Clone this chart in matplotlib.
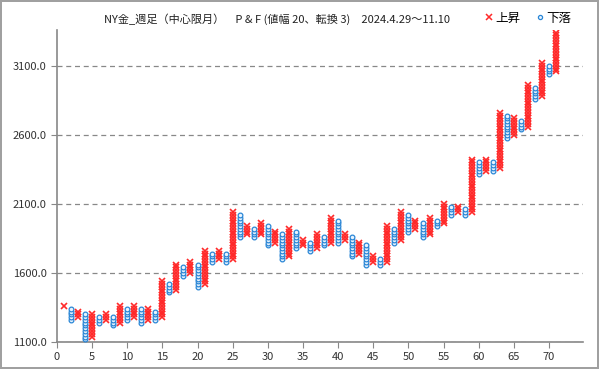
import numpy as np
import matplotlib.pyplot as plt
from matplotlib.lines import Line2D

plt.rcParams['font.family'] = ['Noto Sans CJK JP', 'DejaVu Sans']

# P&F columns (box size 20): odd columns are X (rising), even columns are O (falling)
col_kind = ['X', 'O'] * 35 + ['X']
col_low = [1360, 1260, 1280, 1120, 1140, 1240, 1260, 1220, 1240, 1260,
           1280, 1240, 1260, 1260, 1280, 1460, 1480, 1580, 1600, 1500,
           1520, 1680, 1700, 1680, 1700, 1860, 1880, 1860, 1880, 1800,
           1820, 1700, 1720, 1780, 1800, 1760, 1780, 1800, 1820, 1820,
           1840, 1720, 1740, 1660, 1680, 1660, 1680, 1820, 1840, 1900,
           1920, 1860, 1880, 1940, 1960, 2020, 2040, 2020, 2040, 2320,
           2340, 2340, 2360, 2580, 2600, 2640, 2660, 2860, 2880, 3040,
           3060]
col_high = [1360, 1340, 1320, 1300, 1300, 1280, 1300, 1280, 1360, 1340,
            1360, 1340, 1340, 1320, 1540, 1520, 1660, 1640, 1680, 1660,
            1760, 1740, 1760, 1740, 2040, 2020, 1940, 1920, 1960, 1940,
            1900, 1880, 1920, 1900, 1840, 1820, 1880, 1860, 2000, 1980,
            1880, 1860, 1820, 1800, 1720, 1700, 1940, 1920, 2040, 2020,
            1980, 1960, 2000, 1980, 2100, 2080, 2080, 2060, 2420, 2400,
            2420, 2400, 2760, 2740, 2720, 2700, 2960, 2940, 3120, 3100,
            3340]
box = 20

title = 'NY金_週足（中心限月）　P & F (値幅 20、転換 3)　2024.4.29～11.10'

fig = plt.figure(figsize=(5.99, 3.69), dpi=100)
fig.patch.set_edgecolor('#a0a0a0')
fig.patch.set_linewidth(1.5)
ax = fig.add_axes([0.095, 0.073, 0.878, 0.846])

red = '#ff2a2a'
blue = '#2a86d6'
for i, (k, lo, hi) in enumerate(zip(col_kind, col_low, col_high)):
    vals = np.arange(lo, hi + 1, box)
    xs = np.full(len(vals), i + 1)
    if k == 'X':
        ax.plot(xs, vals, ls='none', marker='x', ms=3.8, mew=1.2,
                color=red, zorder=3)
    else:
        ax.plot(xs, vals, ls='none', marker='o', ms=3.4, mew=0.9,
                mfc='#e8f4ff', mec=blue, zorder=3)

ax.set_xlim(0, 74.8)
ax.set_ylim(1100, 3360)
ax.set_xticks(np.arange(0, 71, 5))
ax.set_yticks(np.arange(1100, 3101, 500))
ax.set_yticklabels([f'{v:.1f}' for v in np.arange(1100, 3101, 500)])
ax.tick_params(labelsize=8, colors='#333333', length=4, color='#888888')
ax.yaxis.grid(True, ls=(0, (4, 3)), color='#888888', lw=0.9)
for s in ['top', 'right']:
    ax.spines[s].set_visible(False)
for s in ['left', 'bottom']:
    ax.spines[s].set_color('#888888')
    ax.spines[s].set_linewidth(1.2)

fig.text(0.462, 0.948, title, ha='center', va='center', fontsize=8, color='#222222')

handles = [Line2D([], [], ls='none', marker='x', ms=4, mew=1.1, color=red),
           Line2D([], [], ls='none', marker='o', ms=3, mew=0.9, mfc='#e8f4ff', mec=blue)]
fig.legend(handles, ['上昇', '下落'], loc='center', bbox_to_anchor=(0.882, 0.951),
           ncol=2, frameon=False, fontsize=9, handlelength=0.6, handletextpad=0.2,
           columnspacing=1.3)

fig.savefig('out.png', dpi=100)
